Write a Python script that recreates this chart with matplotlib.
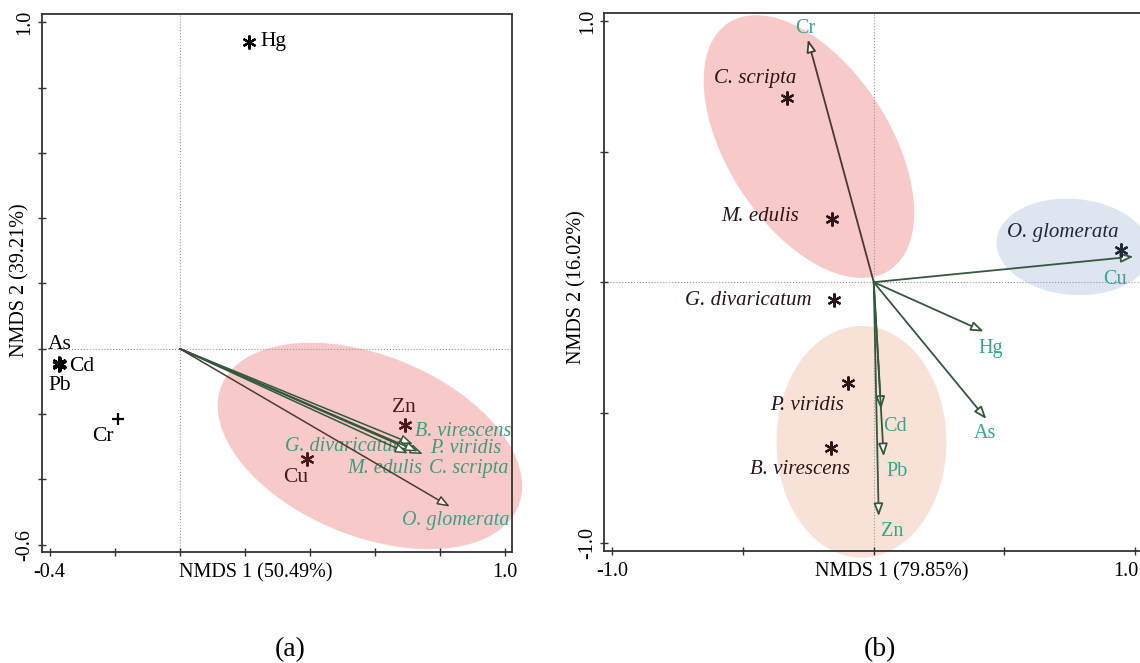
import matplotlib
matplotlib.use("Agg")
import matplotlib.pyplot as plt
from matplotlib.patches import Ellipse
from matplotlib.transforms import blended_transform_factory, ScaledTranslation

plt.rcParams['font.family'] = ['Liberation Serif', 'DejaVu Serif']

# ---- panel (a): heavy metals as points, species as vectors ----
metals_a = ['Hg', 'As', 'Cd', 'Pb', 'Cr', 'Zn', 'Cu']
metal_x_a = [0.214, -0.372, -0.367, -0.371, -0.189, 0.693, 0.392]
metal_y_a = [0.940, -0.043, -0.047, -0.051, -0.216, -0.235, -0.338]
metal_lab_x_a = [0.247, -0.368, -0.341, -0.368, -0.236, 0.690, 0.358]
metal_lab_y_a = [0.940, 0.014, -0.055, -0.112, -0.269, -0.180, -0.395]

species_a = ['B. virescens', 'P. viridis', 'G. divaricatum', 'M. edulis',
             'C. scripta', 'O. glomerata']
vec_x_a = [0.718, 0.748, 0.708, 0.702, 0.733, 0.831]
vec_y_a = [-0.293, -0.323, -0.309, -0.321, -0.315, -0.484]
sp_lab_x_a = [0.724, 0.770, 0.324, 0.514, 0.767, 0.683]
sp_lab_y_a = [-0.253, -0.306, -0.300, -0.366, -0.366, -0.525]

# ---- panel (b): species as points, heavy metals as vectors ----
species_b = ['C. scripta', 'M. edulis', 'G. divaricatum', 'O. glomerata',
             'P. viridis', 'B. virescens']
sp_x_b = [-0.331, -0.159, -0.153, 0.946, -0.099, -0.163]
sp_y_b = [0.706, 0.241, -0.068, 0.124, -0.386, -0.635]
sp_lab_x_b = [-0.452, -0.433, -0.479, 0.722, -0.254, -0.281]
sp_lab_y_b = [0.781, 0.250, -0.072, 0.189, -0.473, -0.718]

metals_b = ['Cr', 'Cu', 'Hg', 'As', 'Cd', 'Pb', 'Zn']
vec_x_b = [-0.252, 0.994, 0.421, 0.431, 0.028, 0.038, 0.019]
vec_y_b = [0.929, 0.098, -0.189, -0.524, -0.486, -0.667, -0.896]
metal_lab_x_b = [-0.262, 0.924, 0.446, 0.427, 0.083, 0.089, 0.070]
metal_lab_y_b = [0.971, 0.009, -0.252, -0.580, -0.552, -0.724, -0.954]

GREEN_TXT = '#3f9c7c'
TEAL_TXT = '#35a58e'
ARROW_G = '#34583c'
MAROON = '#4a1a1a'
STAR = (6, 2, 0)


def style_axes(ax, xticks, yticks):
    ax.set_xticks(xticks)
    ax.set_yticks(yticks)
    ax.set_xticklabels([f"{xticks[0]:.1f}"] + [''] * (len(xticks) - 2) + [f"{xticks[-1]:.1f}"])
    ax.set_yticklabels([f"{yticks[0]:.1f}"] + [''] * (len(yticks) - 2) + [f"{yticks[-1]:.1f}"])
    ax.tick_params(direction='inout', length=6, width=1, colors='#333333',
                   labelsize=14.5, labelcolor='black')
    ax.tick_params(axis='x', pad=5)
    ax.tick_params(axis='y', pad=2)
    plt.setp(ax.get_yticklabels(), rotation=90, va='center')
    for sp in ax.spines.values():
        sp.set_color('#333333')
        sp.set_linewidth(1.3)
    ax.axhline(0, color='#999999', ls=':', lw=0.8, zorder=1)
    ax.axvline(0, color='#999999', ls=':', lw=0.8, zorder=1)


def arrow(ax, x, y, color, lw=1.3):
    ax.annotate('', xy=(x, y), xytext=(0, 0),
                arrowprops=dict(arrowstyle='-|>,head_length=0.75,head_width=0.28',
                                fc='white', ec=color, lw=lw,
                                shrinkA=0, shrinkB=0), zorder=4)


fig = plt.figure(figsize=(11.4, 6.63), dpi=100)

# ================= (a) =================
ax = fig.add_axes([0.0365, 0.1674, 0.4126, 0.8112])
ax.set_xlim(-0.425, 1.022)
ax.set_ylim(-0.623, 1.025)
style_axes(ax, [-0.4, -0.2, 0.0, 0.2, 0.4, 0.6, 0.8, 1.0],
           [-0.6, -0.4, -0.2, 0.0, 0.2, 0.4, 0.6, 0.8, 1.0])

ax.add_patch(Ellipse((0.585, -0.298), 0.985, 0.554, angle=-22,
                     fc='#f7c4c4', ec='none', alpha=0.9, zorder=0, clip_on=False))

for name, x, y in zip(species_a, vec_x_a, vec_y_a):
    col = '#4d3a30' if name == 'O. glomerata' else ARROW_G
    arrow(ax, x, y, col, lw=1.1)

for name, x, y, lx, ly in zip(metals_a, metal_x_a, metal_y_a, metal_lab_x_a, metal_lab_y_a):
    col = MAROON if name in ('Zn', 'Cu') else 'black'
    if name == 'Cr':
        ax.plot(x, y, marker='+', ms=9, mew=1.6, color=col, zorder=5)
    else:
        ax.plot(x, y, marker=STAR, ms=10, mew=1.6, color=col, zorder=5)
    ha = 'left' if name in ('Hg', 'Cd') else 'center'
    ax.text(lx, ly, name, ha=ha, va='center', fontsize=15.5, color=col, zorder=6)

for name, lx, ly in zip(species_a, sp_lab_x_a, sp_lab_y_a):
    col = TEAL_TXT if name == 'O. glomerata' else GREEN_TXT
    ax.text(lx, ly, name, ha='left', va='center', fontsize=14.5,
            style='italic', color=col, zorder=3)

tr = blended_transform_factory(ax.transData, ax.transAxes)
ax.text(0.234, -0.039, 'NMDS 1 (50.49%)', transform=tr, ha='center', va='center', fontsize=14.5)
ax.text(-0.046, 0.505, 'NMDS 2 (39.21%)', transform=ax.transAxes, rotation=90,
        ha='center', va='center', fontsize=14.5)
ax.text(0.528, -0.182, '(a)', transform=ax.transAxes, ha='center', va='center', fontsize=20)

# ================= (b) =================
bx = fig.add_axes([0.5301, 0.1689, 0.4752, 0.811])
bx.set_xlim(-1.031, 1.042)
bx.set_ylim(-1.029, 1.029)
style_axes(bx, [-1.0, -0.5, 0.0, 0.5, 1.0], [-1.0, -0.5, 0.0, 0.5, 1.0])
# the right end label sits at the figure edge; nudge it inwards a little
last = bx.get_xticklabels()[-1]
last.set_transform(last.get_transform() + ScaledTranslation(-9 / 100, 0, fig.dpi_scale_trans))

bx.add_patch(Ellipse((-0.248, 0.519), 1.13, 0.62, angle=123,
                     fc='#f7c4c4', ec='none', alpha=0.9, zorder=0, clip_on=False))
bx.add_patch(Ellipse((0.764, 0.135), 0.59, 0.367, angle=-5,
                     fc='#dde5f1', ec='none', zorder=0, clip_on=False))
bx.add_patch(Ellipse((-0.047, -0.611), 0.65, 0.887, angle=0,
                     fc='#f8e2d7', ec='none', zorder=0, clip_on=False))

for name, x, y in zip(metals_b, vec_x_b, vec_y_b):
    col = '#4a3a2c' if name == 'Cr' else ARROW_G
    arrow(bx, x, y, col, lw=1.3)

for name, lx, ly in zip(metals_b, metal_lab_x_b, metal_lab_y_b):
    bx.text(lx, ly, name, ha='center', va='center', fontsize=14.5, color=TEAL_TXT, zorder=6)

for name, x, y, lx, ly in zip(species_b, sp_x_b, sp_y_b, sp_lab_x_b, sp_lab_y_b):
    col = '#1f2838' if name == 'O. glomerata' else '#2a1616'
    bx.plot(x, y, marker=STAR, ms=10, mew=1.6, color=col, zorder=5)
    bx.text(lx, ly, name, ha='center', va='center', fontsize=15,
            style='italic', color=col, zorder=6)

tr = blended_transform_factory(bx.transData, bx.transAxes)
bx.text(0.068, -0.039, 'NMDS 1 (79.85%)', transform=tr, ha='center', va='center', fontsize=14.5)
bx.text(-0.050, 0.49, 'NMDS 2 (16.02%)', transform=bx.transAxes, rotation=90,
        ha='center', va='center', fontsize=14.5)
bx.text(0.509, -0.184, '(b)', transform=bx.transAxes, ha='center', va='center', fontsize=20)

fig.savefig('out.png', dpi=100)
